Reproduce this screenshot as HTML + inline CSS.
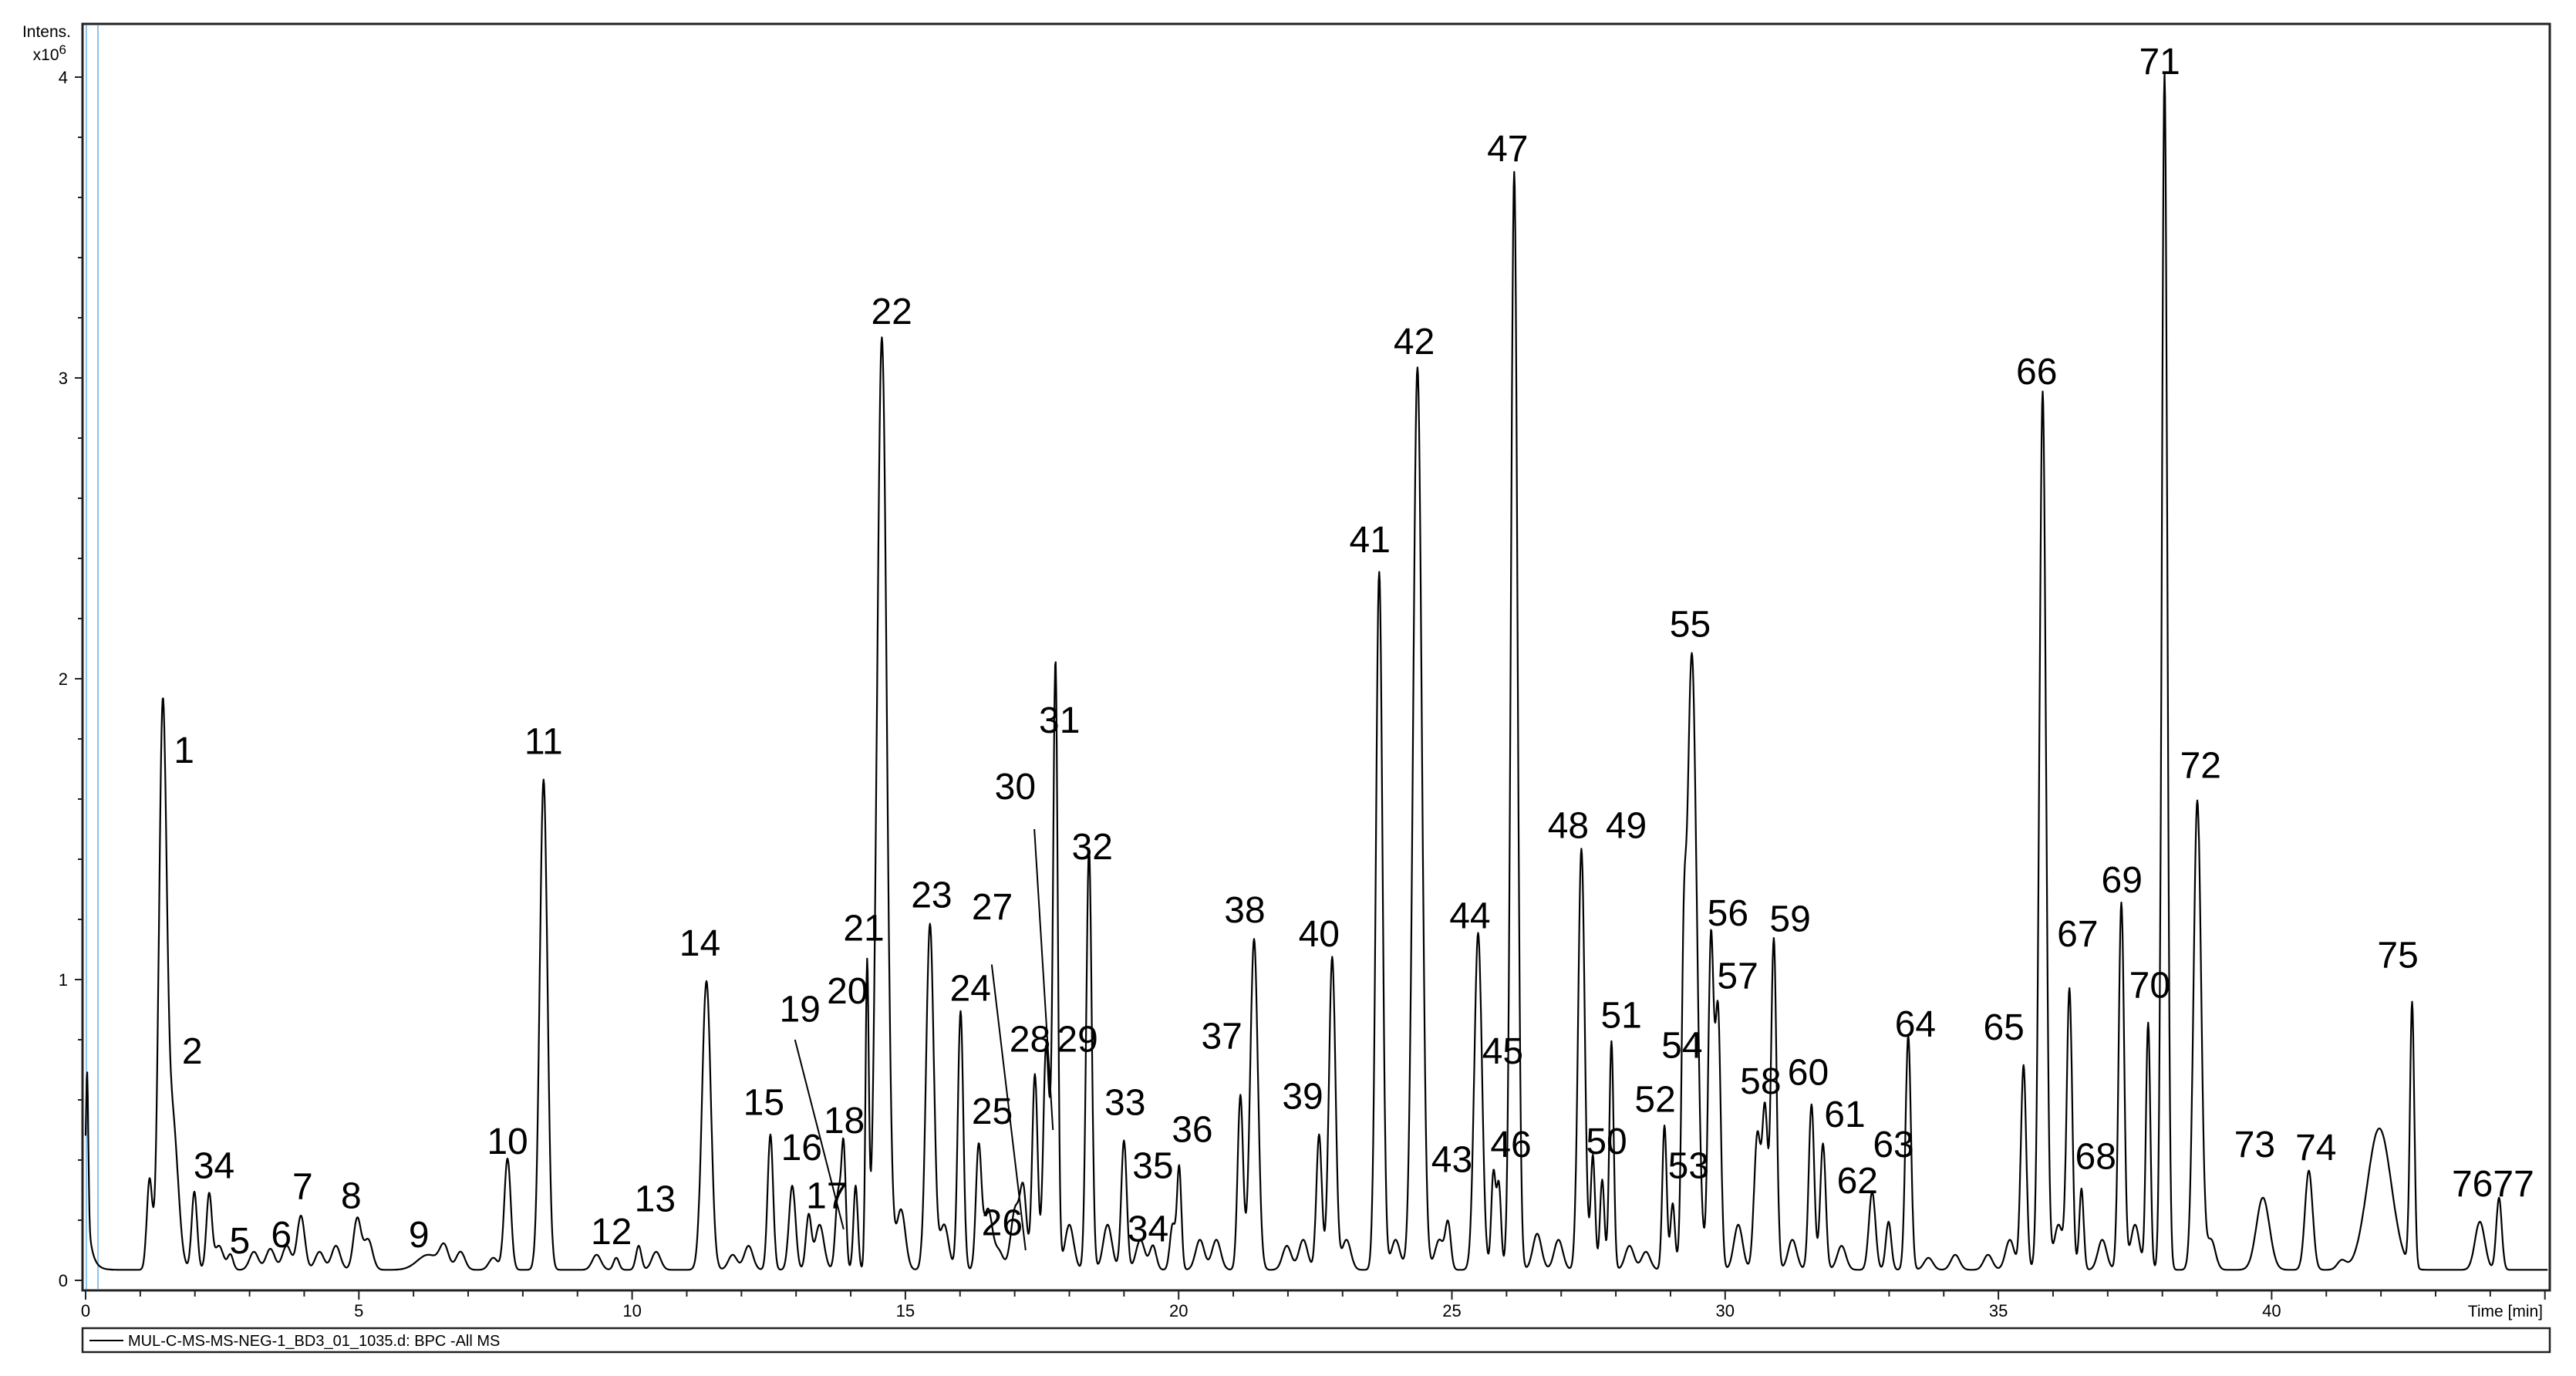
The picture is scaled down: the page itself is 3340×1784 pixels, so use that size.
<!DOCTYPE html>
<html><head><meta charset="utf-8"><style>
html,body{margin:0;padding:0;background:#fff}
svg{display:block}
text{font-family:"Liberation Sans",sans-serif;fill:#000}
</style></head><body>
<svg id="chart" width="3340" height="1784" viewBox="0 0 3340 1784" xmlns="http://www.w3.org/2000/svg">
<rect x="107" y="31" width="3199" height="1642" fill="none" stroke="#222" stroke-width="3"/>
<line x1="112" y1="33" x2="112" y2="1671" stroke="#8cc4f4" stroke-width="2"/>
<line x1="127" y1="33" x2="127" y2="1671" stroke="#8cc4f4" stroke-width="2"/>
<g id="axes"></g>
<path id="trace" fill="none" stroke="#000" stroke-width="2.2" stroke-linejoin="round"/>
<g id="labels"></g>
<text x="92" y="48" font-size="21" text-anchor="end">Intens.</text>
<text x="86" y="78" font-size="21" text-anchor="end">x10<tspan dy="-8" font-size="17">6</tspan></text>
<text x="3297" y="1707" font-size="21" text-anchor="end">Time [min]</text>
<rect x="107" y="1722" width="3199" height="31" fill="#fff" stroke="#222" stroke-width="2.5"/>
<line x1="116" y1="1738" x2="160" y2="1738" stroke="#000" stroke-width="2"/>
<text x="166" y="1745" font-size="20">MUL-C-MS-MS-NEG-1_BD3_01_1035.d: BPC -All MS</text>
</svg>
<script>
// data
const peakTimes=[0.03,1.17,1.41,1.59,1.99,2.26,2.65,3.68,3.94,4.97,6.27,7.72,8.38,9.71,10.12,11.36,12.53,12.93,13.23,13.77,13.87,14.09,14.30,14.57,15.45,16.01,16.34,16.71,17.16,17.37,17.57,17.70,17.75,18.36,19.00,19.53,19.89,20.01,21.13,21.38,22.57,22.81,23.67,24.37,24.93,25.48,25.76,25.86,26.14,27.37,27.58,27.75,27.92,28.89,29.04,29.24,29.39,29.74,29.87,30.59,30.73,30.89,31.58,31.79,32.69,32.99,33.35,35.46,35.81,36.30,36.52,37.25,37.74,38.04,38.64,39.84,40.68,41.97,42.57,43.81,44.16];
const peakHeights=[0.45,0.3,1.8,0.5,0.26,0.25,0.05,0.08,0.18,0.17,0.05,0.37,1.63,0.04,0.08,0.96,0.45,0.28,0.18,0.25,0.4,0.28,1.0,3.1,1.15,0.86,0.4,0.06,0.25,0.65,0.7,0.45,1.7,1.4,0.43,0.08,0.15,0.34,0.58,1.1,0.45,1.04,2.32,3.0,0.15,1.12,0.32,0.28,3.65,1.4,0.38,0.3,0.76,0.48,0.22,0.7,2.05,1.1,0.85,0.45,0.52,1.1,0.55,0.42,0.26,0.16,0.78,0.68,2.92,0.93,0.27,1.22,0.82,3.98,1.56,0.24,0.33,0.47,0.88,0.16,0.24];
const peakWidths=[0.02,0.05,0.07,0.1,0.05,0.05,0.05,0.08,0.07,0.07,0.2,0.06,0.07,0.05,0.05,0.08,0.05,0.06,0.05,0.05,0.04,0.04,0.03,0.09,0.07,0.05,0.05,0.08,0.06,0.05,0.05,0.06,0.04,0.05,0.05,0.06,0.05,0.04,0.05,0.07,0.05,0.06,0.06,0.08,0.05,0.07,0.04,0.04,0.06,0.06,0.04,0.04,0.04,0.04,0.04,0.04,0.09,0.05,0.05,0.06,0.05,0.05,0.05,0.05,0.06,0.05,0.05,0.05,0.06,0.05,0.04,0.05,0.04,0.05,0.07,0.12,0.07,0.22,0.04,0.09,0.05];
const minorTimes=[2.44,3.08,3.38,4.28,4.58,5.17,6.56,6.86,7.46,9.35,10.44,11.84,12.13,13.43,14.92,15.71,16.51,17.01,18.0,18.7,19.3,20.39,20.69,21.98,22.28,23.07,23.97,24.77,26.56,26.95,28.25,28.55,30.24,31.23,32.13,33.72,34.21,34.81,35.21,36.10,36.90,37.50,38.89,41.28];
const minorHeights=[0.08,0.06,0.07,0.06,0.08,0.1,0.07,0.06,0.04,0.05,0.06,0.05,0.08,0.15,0.2,0.15,0.2,0.2,0.15,0.15,0.1,0.1,0.1,0.08,0.1,0.1,0.1,0.1,0.12,0.1,0.08,0.06,0.15,0.1,0.08,0.04,0.05,0.05,0.1,0.15,0.1,0.15,0.1,0.03];
const labelTexts=["1","2","34","5","6","7","8","9","10","11","12","13","14","15","16","17","18","19","20","21","22","23","24","25","26","27","28","29","30","31","32","33","34","35","36","37","38","39","40","41","42","43","44","45","46","47","48","49","50","51","52","53","54","55","56","57","58","59","60","61","62","63","64","65","66","67","68","69","70","71","72","73","74","75","7677"];
const labelTimes=[1.80,1.95,2.35,2.82,3.58,3.97,4.86,6.10,7.72,8.38,9.62,10.42,11.24,12.41,13.10,13.56,13.88,13.07,13.94,14.24,14.75,15.48,16.19,16.59,16.77,16.59,17.28,18.15,17.01,17.82,18.42,19.02,19.44,19.53,20.25,20.79,21.21,22.27,22.57,23.50,24.31,25.00,25.33,25.93,26.08,26.02,27.13,28.19,27.83,28.10,28.72,29.33,29.21,29.36,30.05,30.23,30.65,31.19,31.52,32.19,32.42,33.08,33.48,35.10,35.70,36.45,36.78,37.26,37.77,37.95,38.70,39.69,40.81,42.31,44.05];
const labelValues=[1.72,0.72,0.34,0.09,0.11,0.27,0.24,0.11,0.42,1.75,0.12,0.23,1.08,0.55,0.40,0.24,0.49,0.86,0.92,1.13,3.18,1.24,0.93,0.52,0.15,1.2,0.76,0.76,1.6,1.82,1.40,0.55,0.13,0.34,0.46,0.77,1.19,0.57,1.11,2.42,3.08,0.36,1.17,0.72,0.41,3.72,1.47,1.47,0.42,0.84,0.56,0.34,0.74,2.14,1.18,0.97,0.62,1.16,0.65,0.51,0.29,0.41,0.81,0.80,2.98,1.11,0.37,1.29,0.94,4.01,1.67,0.41,0.40,1.04,0.28];
const xTicks=[0,5,10,15,20,25,30,35,40];
const yTicks=[0,1,2,3,4];

const X=t=>111+t*70.86, Y=v=>1660-v*390;
const NS="http://www.w3.org/2000/svg";
const ax=document.getElementById('axes');
function mk(tag,attrs,parent){const e=document.createElementNS(NS,tag);for(const k in attrs)e.setAttribute(k,attrs[k]);parent.appendChild(e);return e;}
for(let v=0;v<=4.01;v+=0.2){const maj=Math.abs(v-Math.round(v))<0.01;
 const l=mk('line',{x1:107-(maj?10:6),x2:107,y1:Y(v),y2:Y(v),stroke:'#222','stroke-width':2},ax);
 
 }
yTicks.forEach(v=>{const t=mk('text',{x:88,y:Y(v)+8,'font-size':22,'text-anchor':'end'},ax);t.textContent=v;
 
 });
for(let m=0;m<=45;m++){const maj=m%5===0;
 const l=mk('line',{x1:X(m),x2:X(m),y1:1673,y2:1673+(maj?12:8),stroke:'#222','stroke-width':2},ax);
 
 }
xTicks.forEach(v=>{const t=mk('text',{x:X(v),y:1707,'font-size':22,'text-anchor':'middle'},ax);t.textContent=v;
 
 });
// trace
let d='';
for(let t=0;t<=45.05;t+=0.01){
 let v=0.035+0.3*Math.exp(-t/0.08);
 for(let i=0;i<peakTimes.length;i++){const z=(t-peakTimes[i])/peakWidths[i];if(Math.abs(z)<6)v+=peakHeights[i]*Math.exp(-0.5*z*z);}
 for(let i=0;i<minorTimes.length;i++){const z=(t-minorTimes[i])/0.08;if(Math.abs(z)<6)v+=minorHeights[i]*Math.exp(-0.5*z*z);}
 d+=(d?'L':'M')+X(t).toFixed(1)+','+Y(v).toFixed(1);
}
document.getElementById('trace').setAttribute('d',d);
// labels
const lg=document.getElementById('labels');
labelTexts.forEach((s,i)=>{const t=mk('text',{x:X(labelTimes[i]),y:Y(labelValues[i]),'font-size':48,'text-anchor':'middle'},lg);t.textContent=s;
 
 });
[[12.98,0.8,13.87,0.17],[16.58,1.05,17.2,0.1],[17.36,1.5,17.7,0.5]].forEach(a=>{
 const l=mk('line',{x1:X(a[0]),y1:Y(a[1]),x2:X(a[2]),y2:Y(a[3]),stroke:'#000','stroke-width':2},lg);
 
 });
</script>
</body></html>
